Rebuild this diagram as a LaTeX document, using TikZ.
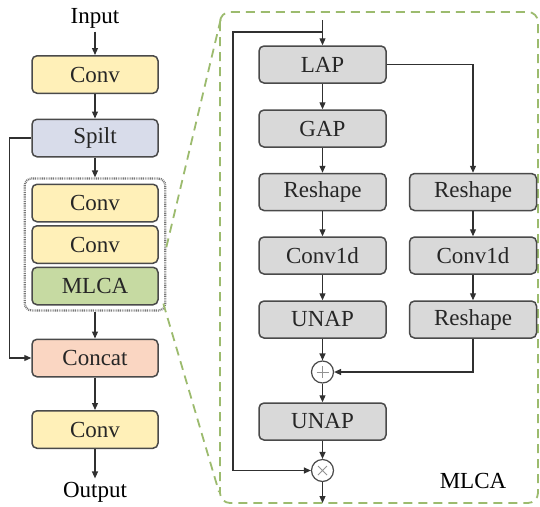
\documentclass[tikz,border=0pt]{standalone}
\usepackage{fontspec}
\setmainfont{Liberation Serif}
\usetikzlibrary{arrows.meta,fit,calc}

\definecolor{convfill}{HTML}{FFF0B8}
\definecolor{splitfill}{HTML}{D8DCEA}
\definecolor{mlcafill}{HTML}{C6DAA2}
\definecolor{catfill}{HTML}{FAD6C2}
\definecolor{opfill}{HTML}{D9D9D9}
\definecolor{edge}{HTML}{4A4A4A}
\definecolor{wire}{HTML}{303030}
\definecolor{zoomgreen}{HTML}{9CBB6E}

\tikzset{
  blk/.style={draw=edge, line width=1.5pt, rounded corners=5pt,
    minimum width=126pt, minimum height=37.5pt, inner sep=0pt, text=black!85},
  opblk/.style={blk, fill=opfill, minimum width=127pt, minimum height=37pt},
  flow/.style={draw=wire, line width=1.2pt, -{Triangle[length=7pt,width=6pt]}},
  junc/.style={circle, draw=edge, line width=1.2pt, fill=white,
    minimum size=22pt, inner sep=0pt},
  zoomline/.style={draw=zoomgreen, line width=1.8pt, dash pattern=on 9pt off 6pt},
  grpbox/.style={draw=edge!75, line width=2.2pt, dash pattern=on 0.9pt off 0.9pt,
    rounded corners=7pt, inner xsep=6.5pt, inner ysep=5pt}
}

\begin{document}
\begin{tikzpicture}[x=1pt, y=-1pt, font=\fontsize{23}{27}\selectfont]
\useasboundingbox (0,0) rectangle (540,506);

% ---------- C2f-style block on the left ----------
\node (in) at (95,18) {Input};
\node[blk, fill=convfill]  (c1)   at (95,74.5)  {Conv};
\node[blk, fill=splitfill] (spl)  at (95,138)   {Spilt};
\node[blk, fill=convfill]  (c2)   at (95,203)   {Conv};
\node[blk, fill=convfill]  (c3)   at (95,244.5) {Conv};
\node[blk, fill=mlcafill]  (mlca) at (95,286)   {MLCA};
\node[grpbox, fit=(c2)(mlca)] (grp) {};
\node[blk, fill=catfill]   (cat)  at (95,358)   {Concat};
\node[blk, fill=convfill]  (c4)   at (95,429.5) {Conv};
\node (out) at (95,492) {Output};

\draw[flow] (in) -- (c1);
\draw[flow] (c1) -- (spl);
\draw[flow] (spl) -- (grp);
\draw[flow] (grp) -- (cat);
\draw[flow] (c4) -- (out);
\draw[flow] (cat) -- (c4);
\draw[flow] (spl.west) -- ++(-22,0) |- (cat.west);

% ---------- zoomed view of the MLCA module ----------
\draw[zoomline, rounded corners=10pt] (220,12) rectangle (538,503);
\coordinate (zu) at ($(grp.north east)!0.52!(grp.south east)$);
\coordinate (zl) at ($(grp.south east)+(-3,-8)$);
\coordinate (pu) at (221,18);
\coordinate (pl) at (219,492);
\draw[zoomline] (zu) -- (pu);
\draw[zoomline] (zl) -- (pl);

\node[opblk] (lap)  at (322.5,64.5)  {LAP};
\node[opblk] (gap)  at (322.5,128.5) {GAP};
\node[opblk] (rsl)  at (322.5,192)   {Reshape};
\node[opblk] (cvl)  at (322.5,255.5) {Conv1d};
\node[opblk] (unl)  at (322.5,319.5) {UNAP};
\node[opblk] (rsr)  at (473,192)     {Reshape};
\node[opblk] (cvr)  at (473,255.5)   {Conv1d};
\node[opblk] (rsr2) at (473,319.5)   {Reshape};
\node[junc]  (add)  at (322.5,372)   {};
\node[opblk] (un2)  at (322.5,421.5) {UNAP};
\node[junc]  (mul)  at (322.5,470.5) {};
\node (lbl) at (473,481) {MLCA};

% operator glyphs inside the junctions
\draw[edge!60, line width=0.8pt] ($(add.center)+(-6,0)$) -- ($(add.center)+(6,0)$)
  ($(add.center)+(0,-6)$) -- ($(add.center)+(0,6)$);
\draw[edge!60, line width=0.8pt] ($(mul.center)+(-4.5,-4.5)$) -- ($(mul.center)+(4.5,4.5)$)
  ($(mul.center)+(-4.5,4.5)$) -- ($(mul.center)+(4.5,-4.5)$);

\coordinate (top) at (322.5,20);
\coordinate (jn)  at (322.5,32);
\coordinate (lp)  at (233,32);
\coordinate (bot) at (322.5,503);

\draw[flow] (top) -- (lap);
\draw[flow] (jn) -- (lp) |- (mul.west);
\draw[flow] (lap) -- (gap);
\draw[flow] (gap) -- (rsl);
\draw[flow] (rsl) -- (cvl);
\draw[flow] (cvl) -- (unl);
\draw[flow] (unl) -- (add);
\draw[flow] (add) -- (un2);
\draw[flow] (un2) -- (mul);
\draw[flow] (mul) -- (bot);
\draw[flow] (lap.east) -| (rsr.north);
\draw[flow] (rsr) -- (cvr);
\draw[flow] (cvr) -- (rsr2);
\draw[flow] (rsr2.south) |- (add.east);
\end{tikzpicture}
\end{document}
